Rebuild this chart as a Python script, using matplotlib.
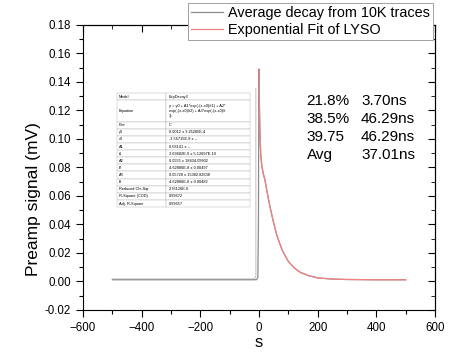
import matplotlib.pyplot as plt
import matplotlib.ticker as mticker
from matplotlib.path import Path
from matplotlib.patches import PathPatch

plt.rcParams['font.family'] = ['Liberation Sans', 'DejaVu Sans']

# averaged trace
t_avg = [-500, -300, -100, -20, -8, -4, -2, -1, 0, 1, 3, 6, 10, 15, 20, 30, 40, 50, 60,
         70, 80, 100, 120, 140, 170, 200, 250, 300, 400, 500]
y_avg = [0.0012, 0.0012, 0.0012, 0.0012, 0.0013, 0.003, 0.04, 0.11, 0.149, 0.128, 0.104,
         0.088, 0.080, 0.075, 0.0716, 0.060, 0.050, 0.041, 0.033, 0.027, 0.0215, 0.0140,
         0.0095, 0.0065, 0.0040, 0.0025, 0.0017, 0.0014, 0.0012, 0.0012]

# exponential fit
t_fit = [0, 1, 3, 6, 10, 15, 20, 30, 40, 50, 60, 70, 80, 100, 120, 140, 170, 200, 250,
         300, 400, 500]
y_fit = [0.149, 0.129, 0.105, 0.089, 0.081, 0.0755, 0.0716, 0.060, 0.050, 0.041, 0.033,
         0.027, 0.0215, 0.0140, 0.0095, 0.0065, 0.0040, 0.0025, 0.0017, 0.0014, 0.0012,
         0.0012]

fit_rows = [
    ['Model', 'ExpDecay3'],
    ['Equation', 'y = y0 + A1*exp(-(x-x0)/t1) + A2*\nexp(-(x-x0)/t2) + A3*exp(-(x-x0)/t\n3)'],
    ['Plot', 'C'],
    ['y0', '0.0012 \u00b1 3.25285E-4'],
    ['x0', '-3.56715E-9 \u00b1 --'],
    ['A1', '0.03141 \u00b1 --'],
    ['t1', '3.69682E-9 \u00b1 5.12697E-10'],
    ['A2', '0.0555 \u00b1 18434.09902'],
    ['t2', '4.62886E-8 \u00b1 0.00497'],
    ['A3', '0.05728 \u00b1 15382.82638'],
    ['t3', '4.62886E-8 \u00b1 0.00482'],
    ['Reduced Chi-Sqr', '2.76126E-6'],
    ['R-Square (COD)', '0.99672'],
    ['Adj. R-Square', '0.99657'],
]

pct = ['21.8%', '38.5%', '39.75', 'Avg']
taus = ['3.70ns', '46.29ns', '46.29ns', '37.01ns']

fig = plt.figure(figsize=(4.62, 3.55), dpi=100)
ax = fig.add_axes([0.1797, 0.1268, 0.7619, 0.8028])

ax.plot(t_avg, y_avg, color='#8c8c8c', lw=0.9, label='Average decay from 10K traces')
ax.plot(t_fit, y_fit, color='#f28282', lw=0.9, label='Exponential Fit of LYSO')

ax.set_xlim(-600, 600)
ax.set_ylim(-0.02, 0.18)
ax.xaxis.set_major_locator(mticker.MultipleLocator(200))
ax.xaxis.set_minor_locator(mticker.MultipleLocator(100))
ax.yaxis.set_major_locator(mticker.MultipleLocator(0.02))
ax.yaxis.set_minor_locator(mticker.MultipleLocator(0.01))
ax.yaxis.set_major_formatter(mticker.FormatStrFormatter('%.2f'))
ax.tick_params(which='major', direction='out', length=5, width=0.8, labelsize=8.3)
ax.tick_params(which='minor', direction='out', length=3, width=0.8)
for s in ax.spines.values():
    s.set_linewidth(0.8)

# inward ticks on right and top
sec_y = ax.secondary_yaxis('right')
sec_y.yaxis.set_major_locator(mticker.MultipleLocator(0.02))
sec_y.yaxis.set_minor_locator(mticker.MultipleLocator(0.01))
sec_y.tick_params(which='both', direction='in', labelright=False)
sec_y.tick_params(which='major', length=5)
sec_y.tick_params(which='minor', length=3)
sec_x = ax.secondary_xaxis('top')
sec_x.xaxis.set_major_locator(mticker.MultipleLocator(200))
sec_x.xaxis.set_minor_locator(mticker.MultipleLocator(100))
sec_x.tick_params(which='both', direction='in', labeltop=False)
sec_x.tick_params(which='major', length=5)
sec_x.tick_params(which='minor', length=3)

ax.set_xlabel('s', fontsize=12, labelpad=1)
ax.set_ylabel('Preamp signal (mV)', fontsize=12.5)
ax.yaxis.set_label_coords(-0.12, 0.39)

leg = ax.legend(loc='upper right', bbox_to_anchor=(0.993, 1.077), fontsize=10.4,
                frameon=True, fancybox=False, edgecolor='#a0a0a0', framealpha=1,
                borderpad=0.2, labelspacing=0.22, handlelength=2.2, handletextpad=0.35,
                borderaxespad=0)
leg.get_frame().set_linewidth(0.7)

# fit results table
tb = ax.table(cellText=fit_rows, colWidths=[0.14, 0.236], cellLoc='left',
              bbox=[0.0966, 0.361, 0.377, 0.400])
tb.auto_set_font_size(False)
tb.set_fontsize(2.8)
unit = 0.400 / (len(fit_rows) + 2)
for (r, c), cell in tb.get_celld().items():
    cell.set_linewidth(0.3)
    cell.set_edgecolor('#b0b0b0')
    cell.set_height(unit * (3 if r == 1 else 1))
    cell.PAD = 0.03
    if c == 1:
        cell._loc = 'center'

# frame (right and bottom edges) around the table
x0, x1, y0, y1, rc = 0.082, 0.491, 0.109, 0.78, 0.012
verts = [(x1, y1), (x1, y0 + rc), (x1, y0), (x1 - rc, y0), (x0, y0)]
codes = [Path.MOVETO, Path.LINETO, Path.CURVE3, Path.CURVE3, Path.LINETO]
ax.add_patch(PathPatch(Path(verts, codes), transform=ax.transAxes, facecolor='none',
                       edgecolor='#c0c0c0', lw=0.7))

for i, (p, tau) in enumerate(zip(pct, taus)):
    y = 0.733 - i * 0.0632
    ax.text(0.635, y, p, transform=ax.transAxes, fontsize=11, va='center')
    ax.text(0.79, y, tau, transform=ax.transAxes, fontsize=11, va='center')

fig.savefig('out.png', dpi=100)
